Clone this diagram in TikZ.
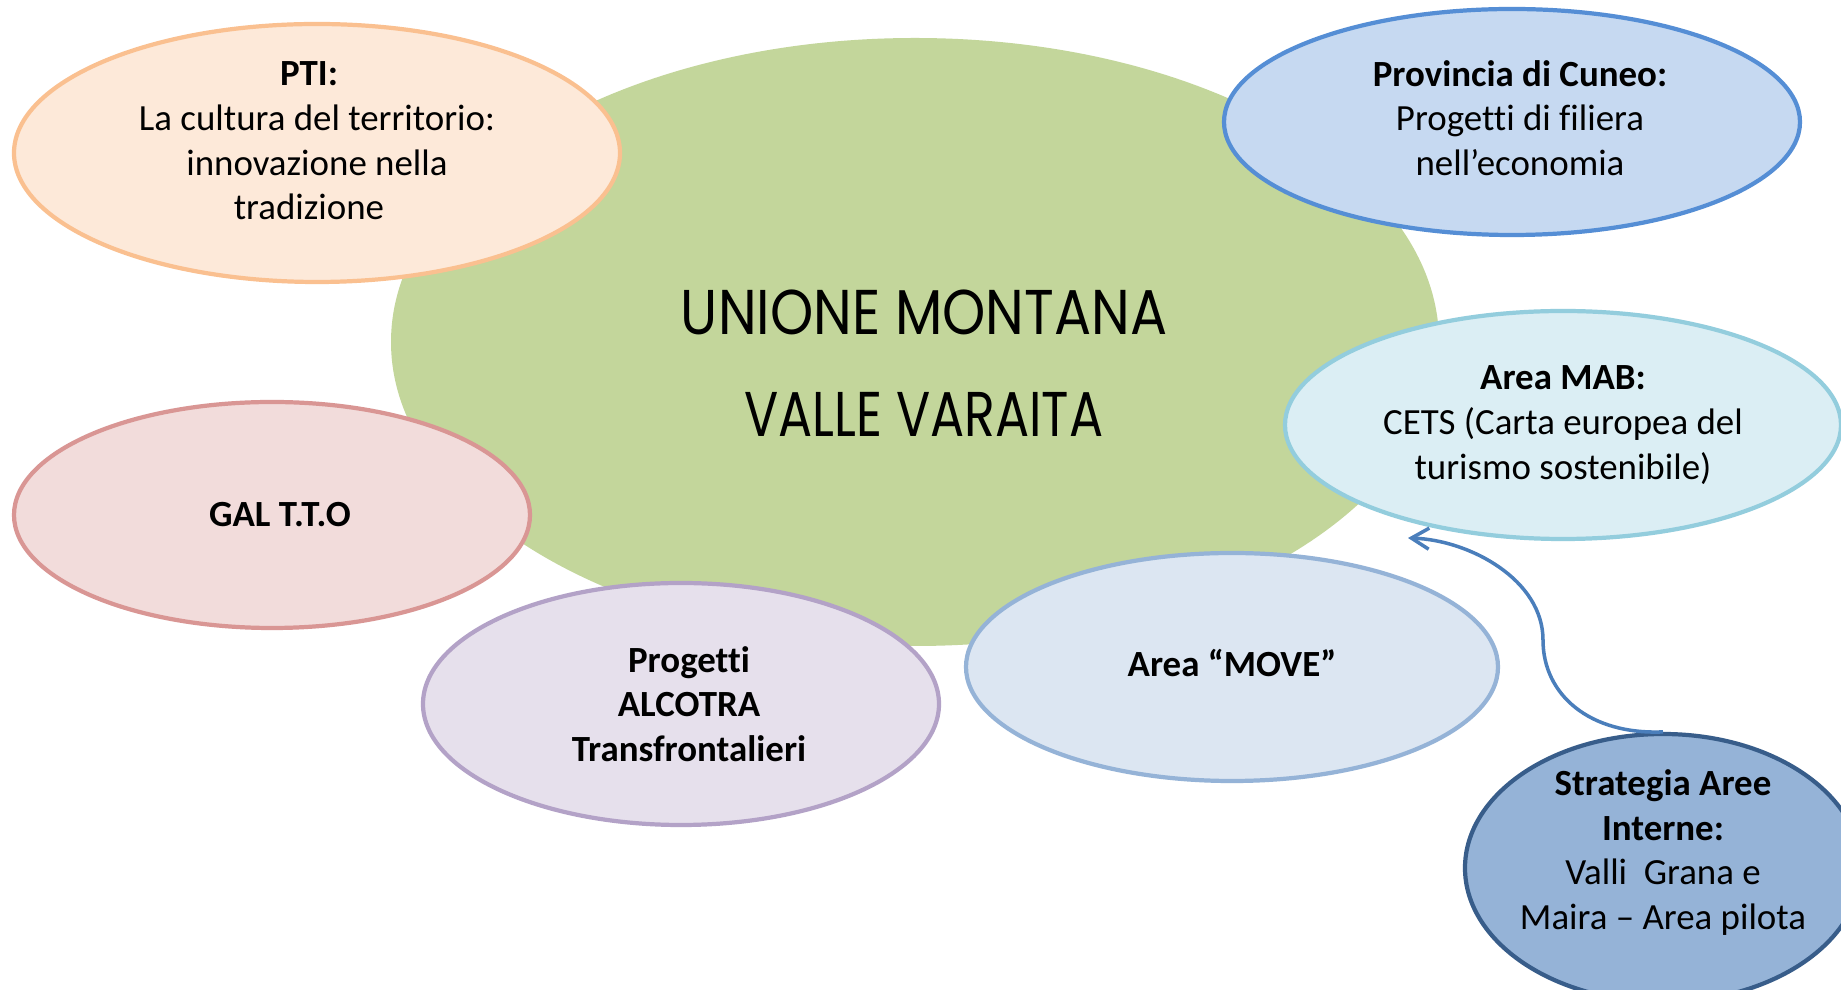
\documentclass[tikz,border=0pt]{standalone}
\usepackage{fontspec}
\setmainfont{Carlito}[Ligatures=NoCommon]
\newfontfamily\titlefont{Poppins}
\usetikzlibrary{shapes.geometric,arrows.meta}

\definecolor{umgreen}{HTML}{C3D69B}
\definecolor{ptifill}{HTML}{FDE9D9}
\definecolor{ptiline}{HTML}{FAC090}
\definecolor{provfill}{HTML}{C6D9F1}
\definecolor{provline}{HTML}{558ED5}
\definecolor{mabfill}{HTML}{DBEEF4}
\definecolor{mabline}{HTML}{93CDDD}
\definecolor{galfill}{HTML}{F2DCDB}
\definecolor{galline}{HTML}{D99694}
\definecolor{alcfill}{HTML}{E6E0EC}
\definecolor{alcline}{HTML}{B3A2C7}
\definecolor{movefill}{HTML}{DCE6F2}
\definecolor{moveline}{HTML}{95B3D7}
\definecolor{saifill}{HTML}{95B3D7}
\definecolor{sailine}{HTML}{385D8A}
\definecolor{arrowblue}{HTML}{4A7EBB}

\newcommand{\rsh}{\hspace*{0.16cm}}

\begin{document}
\begin{tikzpicture}[
  bubble/.style={ellipse,line width=1.2pt,inner sep=-0.5em,align=center,
    font=\fontsize{10.5}{12.7}\selectfont},
  title/.style={align=center,font=\titlefont\fontsize{18}{29}\selectfont}]
\useasboundingbox (0,0) rectangle (18.41cm,9.90cm);
\clip (0,0) rectangle (18.41cm,9.90cm);
\fill[white] (0,0) rectangle (18.41cm,9.90cm);
% the union in the middle
\node[ellipse,fill=umgreen,minimum width=10.48cm,minimum height=6.08cm] (um) at (9.15cm,6.48cm) {};
\node[title] (umtitle) at (9.24cm,6.27cm) {\scalebox{0.87}[1]{UNIONE MONTANA}\\\scalebox{0.8}[1]{VALLE VARAITA}};
% partners around it
\node[bubble,fill=ptifill,draw=ptiline,minimum width=6.06cm,minimum height=2.58cm,text depth=0.24cm] (pti) at (3.17cm,8.37cm)
  {\textbf{PTI:}\rsh\\La cultura del territorio:\rsh\\innovazione nella\rsh\\tradizione\rsh};
\node[bubble,fill=provfill,draw=provline,minimum width=5.76cm,minimum height=2.26cm,text depth=0.08cm] (prov) at (15.12cm,8.68cm)
  {\rsh\textbf{Provincia di Cuneo:}\\\rsh Progetti di filiera\\\rsh nell’economia};
\node[bubble,fill=mabfill,draw=mabline,minimum width=5.56cm,minimum height=2.28cm] (mab) at (15.63cm,5.65cm)
  {\textbf{Area MAB:}\\CETS (Carta europea del\\turismo sostenibile)};
\node[bubble,fill=galfill,draw=galline,minimum width=5.16cm,minimum height=2.26cm] (gal) at (2.72cm,4.75cm)
  {\rsh\textbf{GAL T.T.O}};
\node[bubble,fill=alcfill,draw=alcline,minimum width=5.16cm,minimum height=2.42cm] (alcotra) at (6.81cm,2.86cm)
  {\rsh\textbf{Progetti}\\\rsh\textbf{ALCOTRA}\\\rsh\textbf{Transfrontalieri}};
\node[bubble,fill=movefill,draw=moveline,minimum width=5.32cm,minimum height=2.28cm,text depth=0.08cm] (move) at (12.32cm,3.23cm)
  {\textbf{Area “MOVE”}};
\node[bubble,fill=saifill,draw=sailine,minimum width=3.96cm,minimum height=2.68cm,text depth=0.37cm] (sai) at (16.63cm,1.22cm)
  {\textbf{Strategia Aree}\\\textbf{Interne:}\\Valli~ Grana e\\Maira – Area pilota};
\coordinate (maftip) at (14.08cm,4.52cm);
\draw[arrowblue,line width=1pt,-{Straight Barb[length=5pt,width=6pt]}] (sai.north)
  .. controls (15.9cm,2.55cm) and (15.43cm,2.95cm) .. (15.43cm,3.5cm)
  .. controls (15.43cm,4.1cm) and (14.7cm,4.5cm) .. (maftip);
\end{tikzpicture}
\end{document}
